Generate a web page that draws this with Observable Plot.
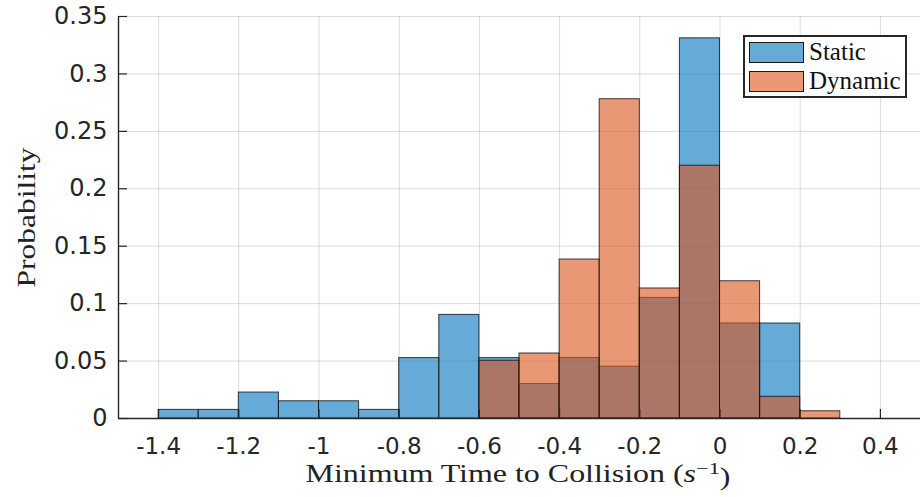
<!DOCTYPE html>
<html>
<head>
<meta charset="utf-8">
<script src="https://cdn.jsdelivr.net/npm/d3@7"></script>
<script src="https://cdn.jsdelivr.net/npm/@observablehq/plot@0.6"></script>
<style>
  body { margin: 0; background: #fff; }
  #wrap { position: relative; width: 920px; height: 497px; overflow: hidden; }
  .legend { position: absolute; left: 743px; top: 35px; width: 160px; height: 59px;
            border: 2px solid #262626; background: #fff;
            font-family: "Liberation Serif", "DejaVu Serif", serif; font-size: 25px; color: #111; }
  .legend .row { position: absolute; left: 4px; height: 22px; display: flex; align-items: center; white-space: nowrap; }
  .legend .sw { width: 53px; height: 19px; border: 1.5px solid #1a1a1a; margin-right: 5px; }
</style>
</head>
<body>
<div id="wrap"></div>
<script>
// ---- data ----
const binEdges = [-1.4, -1.3, -1.2, -1.1, -1.0, -0.9, -0.8, -0.7, -0.6, -0.5, -0.4, -0.3, -0.2, -0.1, 0.0, 0.1, 0.2, 0.3];
const staticProb  = [0.0075, 0.0075, 0.0226, 0.015, 0.015, 0.0075, 0.0526, 0.0902, 0.0526, 0.030, 0.0526, 0.0451, 0.105, 0.331, 0.0827, 0.0827, 0];
const dynamicProb = [0, 0, 0, 0, 0, 0, 0, 0, 0.0503, 0.0566, 0.1384, 0.2780, 0.1132, 0.2201, 0.1195, 0.0189, 0.0063];
const seriesNames = ["Static", "Dynamic"];
const seriesColors = ["#0072BD", "#D95319"];
const xTicks = [-1.4, -1.2, -1, -0.8, -0.6, -0.4, -0.2, 0, 0.2, 0.4];
const xTickLabels = ["-1.4", "-1.2", "-1", "-0.8", "-0.6", "-0.4", "-0.2", "0", "0.2", "0.4"];
const yTicks = [0, 0.05, 0.1, 0.15, 0.2, 0.25, 0.3, 0.35];
const yTickLabels = ["0", "0.05", "0.1", "0.15", "0.2", "0.25", "0.3", "0.35"];
const xDomain = [-1.5, 0.5];
const yDomain = [0, 0.35];
const xTitle = "Minimum Time to Collision (s-1)";
const yTitle = "Probability";

const rows = (vals) => vals.map((v, i) => ({x1: binEdges[i], x2: binEdges[i + 1], y: v})).filter(d => d.y > 0);
const staticRows = rows(staticProb);
const dynamicRows = rows(dynamicProb);
const xLab = new Map(xTicks.map((t, i) => [t, xTickLabels[i]]));
const yLab = new Map(yTicks.map((t, i) => [t, yTickLabels[i]]));

const axisColor = "#262626";
const chart = Plot.plot({
  width: 920, height: 497,
  marginLeft: 118, marginRight: 0, marginTop: 16, marginBottom: 79,
  x: {domain: xDomain},
  y: {domain: yDomain},
  style: {fontFamily: "DejaVu Sans", fontSize: "24px", color: axisColor, background: "#fff", overflow: "visible"},
  marks: [
    Plot.gridX(xTicks, {stroke: "#000", strokeOpacity: 0.14, strokeWidth: 1}),
    Plot.gridY(yTicks, {stroke: "#000", strokeOpacity: 0.14, strokeWidth: 1}),
    Plot.rectY(staticRows, {x1: "x1", x2: "x2", y1: 0, y2: "y", fill: seriesColors[0], fillOpacity: 0.6, stroke: "#111", strokeOpacity: 0.8, strokeWidth: 1}),
    Plot.rectY(dynamicRows, {x1: "x1", x2: "x2", y1: 0, y2: "y", fill: seriesColors[1], fillOpacity: 0.6, stroke: "#111", strokeOpacity: 0.8, strokeWidth: 1}),
    Plot.ruleY([yDomain[0]], {stroke: axisColor, strokeWidth: 1.4}),
    Plot.ruleX([xDomain[0]], {stroke: axisColor, strokeWidth: 1.4}),
    Plot.axisX(xTicks, {tickSize: 9, dy: -9, tickPadding: 19, tickFormat: d => xLab.get(d), label: null, fontSize: 23, strokeWidth: 1.2}),
    Plot.axisY(yTicks, {tickSize: 9, dx: 9, tickPadding: 11, tickFormat: d => yLab.get(d), label: null, fontSize: 24, strokeWidth: 1.2}),
    Plot.text([xTitle], {frameAnchor: "bottom", dy: 63, fontSize: 25, fontFamily: "Liberation Serif", fill: "#222"}),
    Plot.text([yTitle], {frameAnchor: "left", rotate: -90, dx: -92, fontSize: 25, fontFamily: "Liberation Serif", fill: "#222"})
  ]
});

const wrap = document.getElementById("wrap");
wrap.appendChild(chart);

// x title with italic s and superscript -1
d3.select(chart).selectAll("text").filter(function() { return this.textContent === xTitle; }).each(function() {
  const t = d3.select(this);
  t.text(null);
  t.append("tspan").text("Minimum Time to Collision (");
  t.append("tspan").attr("font-style", "italic").text("s");
  t.append("tspan").attr("dy", "-0.45em").attr("font-size", "0.7em").text("\u22121");
  t.append("tspan").attr("dy", "0.45em").text(")");
  t.attr("text-anchor", "start").attr("x", -214)
   .attr("textLength", 425).attr("lengthAdjust", "spacingAndGlyphs");
});
// y title: stretch to the reference's length, anchored explicitly
d3.select(chart).selectAll("text").filter(function() { return this.textContent === yTitle; })
  .attr("text-anchor", "start").attr("x", -70)
  .attr("textLength", 140).attr("lengthAdjust", "spacingAndGlyphs");

// legend
const legend = document.createElement("div");
legend.className = "legend";
seriesNames.forEach((name, i) => {
  const row = document.createElement("div");
  row.className = "row";
  row.style.top = (4 + i * 29) + "px";
  const sw = document.createElement("div");
  sw.className = "sw";
  const c = d3.color(seriesColors[i]); c.opacity = 0.6;
  sw.style.background = c.formatRgb();
  const label = document.createElement("span");
  label.textContent = name;
  row.appendChild(sw); row.appendChild(label);
  legend.appendChild(row);
});
wrap.appendChild(legend);
</script>
</body>
</html>
